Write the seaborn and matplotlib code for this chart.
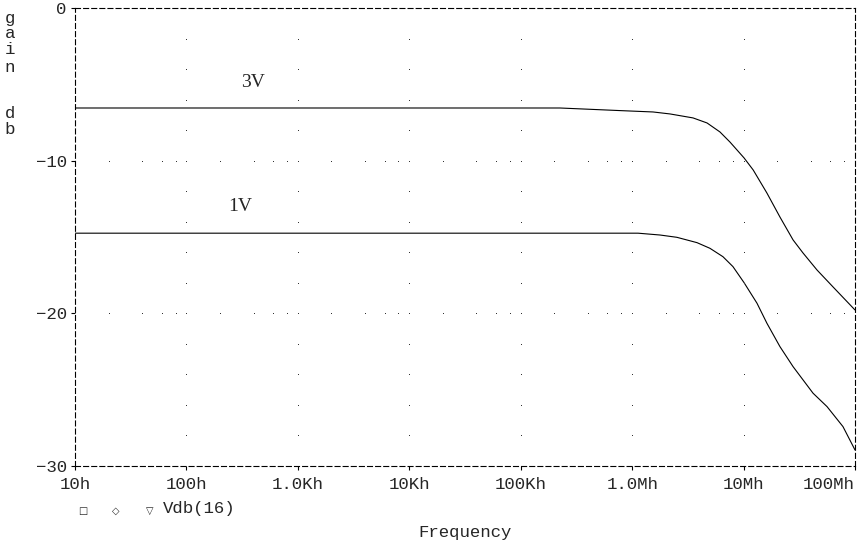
import numpy as np
import pandas as pd
import matplotlib
matplotlib.use('Agg')
import matplotlib.pyplot as plt
import seaborn as sns

# frequency response (Hz, dB)
freq_3v = [10, 2.25e5, 7.78e5, 1.54e6, 2.19e6, 3.52e6, 4.7e6, 6.14e6, 7.55e6, 1.01e7,
           1.22e7, 1.62e7, 2.12e7, 2.78e7, 3.41e7, 4.56e7, 6.35e7, 1e8]
gain_3v = [-6.55, -6.55, -6.72, -6.81, -6.94, -7.20, -7.53, -8.12, -8.78, -9.82,
           -10.61, -12.12, -13.69, -15.19, -16.04, -17.16, -18.27, -19.78]

freq_1v = [10, 2.25e5, 1.13e6, 1.78e6, 2.52e6, 3.82e6, 4.99e6, 6.53e6, 8.03e6, 1.01e7,
           1.32e7, 1.62e7, 2.12e7, 2.78e7, 4.2e7, 5.61e7, 7.8e7, 1e8]
gain_1v = [-14.75, -14.75, -14.75, -14.87, -15.02, -15.37, -15.74, -16.29, -16.94, -17.99,
           -19.34, -20.65, -22.18, -23.49, -25.23, -26.11, -27.42, -28.95]

curve_names = ['3V', '1V']
label_pos = [(395, -4.9), (303, -13.0)]

x_ticks = [1e1, 1e2, 1e3, 1e4, 1e5, 1e6, 1e7, 1e8]
x_labels = ['10h', '100h', '1.0Kh', '10Kh', '100Kh', '1.0Mh', '10Mh', '100Mh']
y_ticks = [0, -10, -20, -30]

sns.set_style('white')
plt.rcParams['font.family'] = ['Liberation Mono', 'DejaVu Sans']

fig = plt.figure(figsize=(8.62, 5.5), dpi=100)
ax = fig.add_axes([75/862, 84/550, 780/862, 458/550])

df = pd.concat([
    pd.DataFrame({'freq': freq_3v, 'gain': gain_3v, 'curve': '3V'}),
    pd.DataFrame({'freq': freq_1v, 'gain': gain_1v, 'curve': '1V'}),
])
for name in curve_names:
    sub = df[df.curve == name]
    sns.lineplot(data=sub, x='freq', y='gain', color='black', lw=0.8, sort=False,
                 ax=ax, legend=False)

ax.set_xscale('log')
ax.set_xlim(1e1, 1e8)
ax.set_ylim(-30, 0)

# dotted grid like the PSpice probe window
dec = np.array(x_ticks)
vy = [v for v in range(-28, 0, 2)]
for d in dec[1:-1]:
    ax.plot([d]*len(vy), vy, ls='none', marker='s', ms=0.7, color='#333333', mew=0)
hx = [d*m for d in dec[:-1] for m in (1, 2, 4, 6, 8)][1:]
for g in y_ticks[1:-1]:
    ax.plot(hx, [g]*len(hx), ls='none', marker='s', ms=0.7, color='#333333', mew=0)

for s in ax.spines.values():
    s.set_visible(True)
    s.set_color('black')
    s.set_linewidth(0.8)
    s.set_linestyle((0, (4.5, 2.8)))

ax.set_xticks(x_ticks)
ax.set_xticklabels(x_labels)
ax.xaxis.set_minor_locator(matplotlib.ticker.NullLocator())
ax.set_yticks(y_ticks)
ax.tick_params(axis='both', direction='out', length=3, width=0.8, color='black',
               labelsize=12.5, pad=3, bottom=True, left=True)
ax.tick_params(axis='x', pad=5)
ax.get_xticklabels()[-1].set_ha('right')

for name, (lx, ly) in zip(curve_names, label_pos):
    ax.text(lx, ly, name, family='Liberation Serif', fontsize=14, ha='center', va='center')

ax.set_xlabel('Frequency', fontsize=12.5, labelpad=24)
ax.set_ylabel('')

# stacked y label letters
for ch, yy in zip('gaindb', [18, 34, 50, 68, 114, 130]):
    fig.text(10/862, 1 - yy/550, ch, fontsize=12.5, ha='center', va='center')

# trace legend under the axis
for sym, xx in zip(['□', '◇', '▽'], [83, 116, 150]):
    fig.text(xx/862, 1 - 511/550, sym, family='DejaVu Sans', fontsize=7,
             ha='center', va='center')
fig.text(163/862, 1 - 509/550, 'Vdb(16)', fontsize=12.5, ha='left', va='center')

fig.savefig('out.png', dpi=100)
